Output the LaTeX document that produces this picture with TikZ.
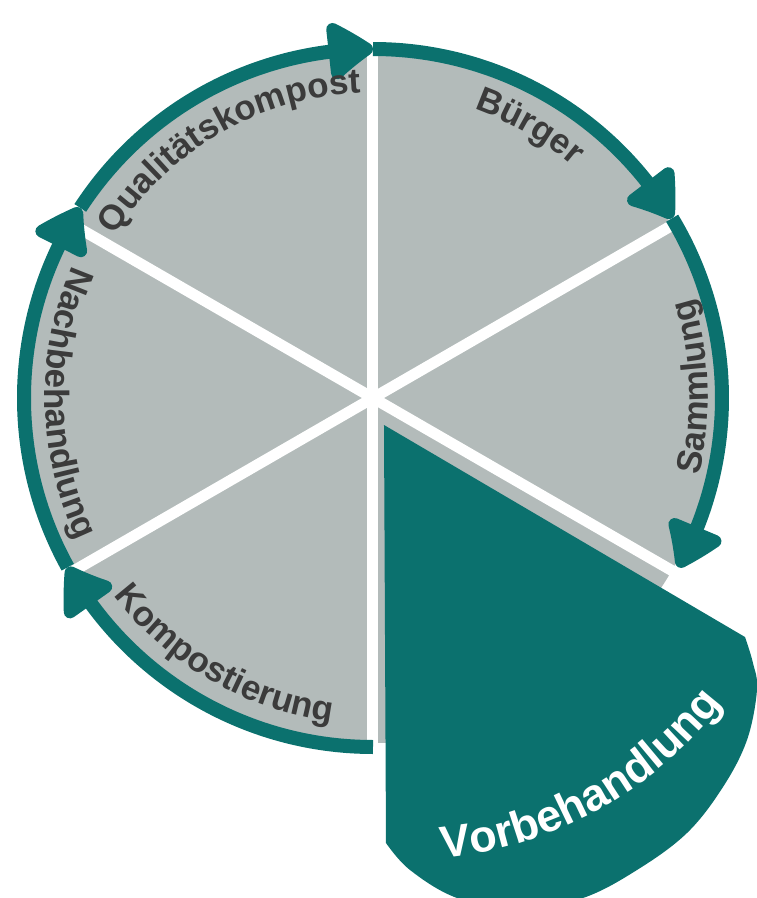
\documentclass[tikz,border=0pt]{standalone}
\usepackage{fontspec}
\setmainfont{Liberation Sans}
\usetikzlibrary{arrows.meta,bending,decorations.text}
\definecolor{cycleteal}{HTML}{0B716E}
\definecolor{slicegray}{HTML}{B3BBBA}
\definecolor{labelgray}{HTML}{3B3B3B}
\begin{document}
\begin{tikzpicture}[x=1pt,y=1pt,
  ring/.style={draw=cycleteal, line width=14pt,
    -{Triangle[length=50pt,width=64pt,round,bend]}},
  divider/.style={draw=white, line width=11pt},
  graylabel/.style={decorate, decoration={text along path, text align=center,
    text color=labelgray,
    text={|\fontsize{35}{42}\selectfont\bfseries|#1}}},
  whitelabel/.style={decorate, decoration={text along path, text align=center,
    text color=white,
    text={|\fontsize{45}{52}\selectfont\bfseries|#1}}},
]
\useasboundingbox (-373,-500) rectangle (384,398);
\clip (-373,-500) rectangle (384,398);
\coordinate (c) at (0,0);

% pie of six stages
\fill[slicegray] (c) circle[radius=345];
\foreach \a in {90,30,-30,-90,-150,150}
  \draw[divider] (c) -- (\a:352);

% highlighted, pulled-out slice
\fill[cycleteal] (11,-27) -- (13,-445)
  -- plot[smooth,tension=0.6] coordinates {(13,-445) (37,-472) (84,-500)
     (147,-512) (210,-500) (264,-472) (314,-435) (350,-389) (374,-342)
     (384,-292) (380,-265) (372,-239)} -- cycle;

% cycle arrows
\draw[ring] (147:349) arc[start angle=147, end angle=90, radius=349];
\draw[ring] (90:349) arc[start angle=90, end angle=31, radius=349];
\draw[ring] (31:349) arc[start angle=31, end angle=-29, radius=349];
\draw[ring] (-90:349) arc[start angle=-90, end angle=-151, radius=349];
\draw[ring] (-151:349) arc[start angle=209, end angle=147, radius=349];

% stage labels
\path[graylabel=Qualitätskompost] (150:305) arc[start angle=150, end angle=90, radius=305];
\path[graylabel=Bürger] (90:306) arc[start angle=90, end angle=30, radius=306];
\path[graylabel=Sammlung] (-28:335) arc[start angle=-28, end angle=32, radius=335];
\path[graylabel=Nachbehandlung] (151:328) arc[start angle=151, end angle=211, radius=328];
\path[graylabel=Kompostierung] (210:326) arc[start angle=210, end angle=270, radius=326];
\begin{scope}[shift={(32,-62)}]
  \path[whitelabel=Vorbehandlung] (-91:400) arc[start angle=-91, end angle=-31, radius=400];
\end{scope}
\end{tikzpicture}
\end{document}
